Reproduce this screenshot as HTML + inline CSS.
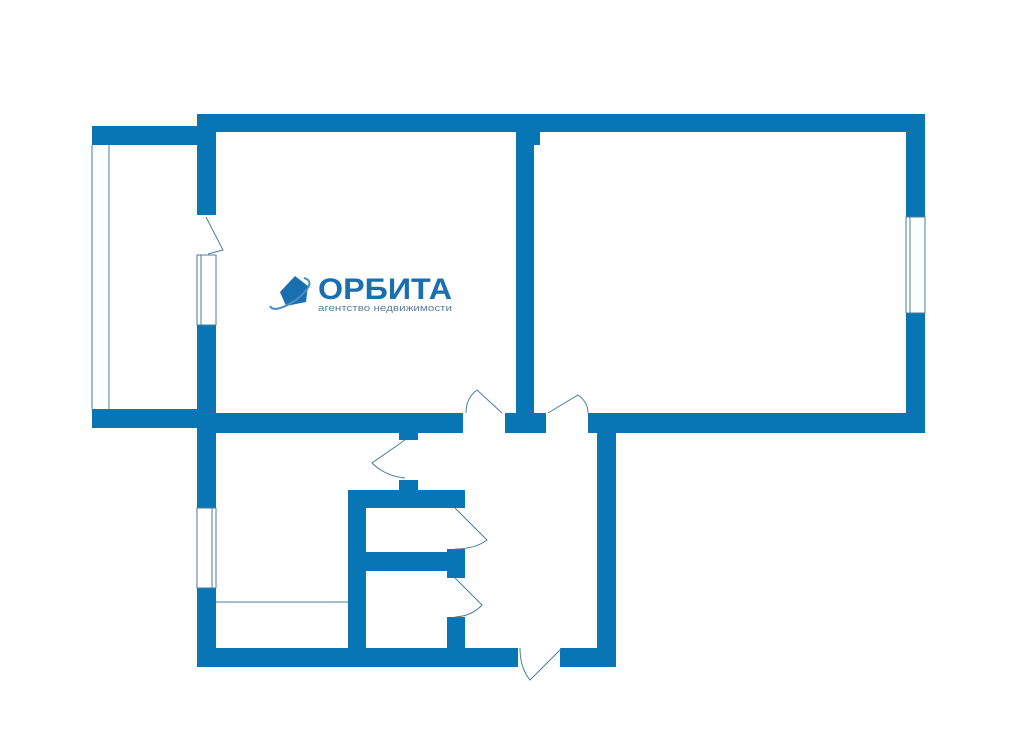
<!DOCTYPE html>
<html><head><meta charset="utf-8"><style>
body{margin:0;background:#fff;width:1024px;height:725px;overflow:hidden}
</style></head><body>
<svg width="1024" height="725" viewBox="0 0 1024 725" xmlns="http://www.w3.org/2000/svg">
<g fill="#0876b4">
<rect x="197" y="114" width="728" height="18"/>
<rect x="92" y="126" width="105" height="19"/>
<rect x="92" y="409" width="105" height="19"/>
<rect x="197" y="114" width="19" height="101"/>
<rect x="197" y="325" width="19" height="183"/>
<rect x="197" y="588" width="19" height="79"/>
<rect x="516" y="132" width="18" height="281"/>
<rect x="534" y="132" width="6" height="13"/>
<rect x="197" y="413" width="266" height="20"/>
<rect x="505" y="413" width="41" height="20"/>
<rect x="588" y="413" width="337" height="20"/>
<rect x="906" y="114" width="19" height="103"/>
<rect x="906" y="313" width="19" height="120"/>
<rect x="597" y="413" width="19" height="254"/>
<rect x="197" y="648" width="321" height="19"/>
<rect x="560" y="648" width="56" height="19"/>
<rect x="348" y="490" width="18" height="158"/>
<rect x="348" y="490" width="117" height="18"/>
<rect x="348" y="552" width="117" height="19"/>
<rect x="447" y="549" width="18" height="29"/>
<rect x="447" y="617" width="18" height="31"/>
<rect x="399" y="480" width="19" height="10"/>
<rect x="399" y="433" width="19" height="7"/>
</g>
<g fill="none" stroke="#4a7f98" stroke-width="1">
<line x1="92" y1="145" x2="92" y2="409"/>
<line x1="109" y1="145" x2="109" y2="409"/>
<rect x="197" y="255" width="19" height="70"/>
<line x1="201" y1="255" x2="201" y2="325"/>
<rect x="906" y="217" width="19" height="96"/>
<line x1="910" y1="217" x2="910" y2="313"/>
<rect x="197" y="508" width="19" height="80"/>
<line x1="212" y1="508" x2="212" y2="588"/>
<line x1="216" y1="602" x2="348" y2="602"/>
<path d="M206 217 L223 250 L208 254"/>
<path d="M502 413 L477 390 Q466 398 466 413"/>
<path d="M548 413 L578 395 Q588 402 588 413"/>
<path d="M405 440 L372 463 Q385 476 405 478"/>
<path d="M455 508 L487 540 Q475 549 455 549"/>
<path d="M455 578 L482 605 Q472 616 455 617"/>
<path d="M562 648 L530 680 Q520 668 520 648"/>
</g>
<g>
<path d="M280 292 L295 276 L308 286 L306 302 L286 306 Z" fill="#1a6fb0"/>
<path d="M304 278 Q318 282 296 300 Q274 314 270 306" fill="none" stroke="#4a8fc0" stroke-width="2"/>
<text x="318" y="299" font-family="Liberation Sans, sans-serif" font-size="30" font-weight="bold" fill="#1a6fb0" textLength="134" lengthAdjust="spacingAndGlyphs">ОРБИТА</text>
<text x="318" y="311" font-family="Liberation Sans, sans-serif" font-size="9.5" fill="#5a7fa0" textLength="134" lengthAdjust="spacingAndGlyphs">агентство недвижимости</text>
</g>
</svg>
</body></html>
